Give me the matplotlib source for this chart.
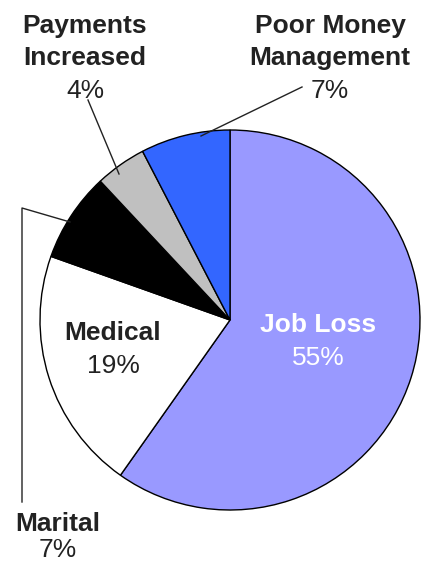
import numpy as np
import matplotlib.pyplot as plt

plt.rcParams['font.family'] = ['Liberation Sans', 'DejaVu Sans']

# data
causes = ["Job Loss", "Medical", "Marital", "Payments\nIncreased", "Poor Money\nManagement"]
percent = [55, 19, 7, 4, 7]
colors = ["#9999FF", "#FFFFFF", "#000000", "#C0C0C0", "#3366FF"]

W, H = 428, 564
fig = plt.figure(figsize=(W / 100, H / 100), dpi=100)
ax = fig.add_axes([0, 0, 1, 1])

cx, cy, r = 230, 320, 190

# y axis flipped below, so counterclock=True looks clockwise on screen
wedges, _ = ax.pie(percent, colors=colors, startangle=-90, counterclock=True,
                   center=(cx, cy), radius=r, frame=True,
                   wedgeprops=dict(edgecolor="black", linewidth=1))
ax.set_xlim(0, W)
ax.set_ylim(H, 0)
ax.set_aspect("equal")
ax.axis("off")

fs = 19
dark = "#222222"

def label(x, ys, name, pct, col):
    lines = name.split("\n")
    for yy, t in zip(ys[:-1], lines):
        ax.text(x, yy, t, ha="center", va="baseline", fontsize=fs,
                fontweight="bold", color=col)
    ax.text(x, ys[-1], pct, ha="center", va="baseline", fontsize=fs, color=col)

# inside labels
label(318, [332, 365], causes[0], "%d%%" % percent[0], "white")
label(113, [340, 373], causes[1], "%d%%" % percent[1], dark)

# outside labels (bottom one kept just inside the edge)
label(58, [531, 557], causes[2], "%d%%" % percent[2], dark)
label(85, [33, 65, 98], causes[3], "%d%%" % percent[3], dark)
label(330, [33, 65, 98], causes[4], "%d%%" % percent[4], dark)

# leader lines
ax.plot([119, 88], [174, 100], color=dark, lw=1)
ax.plot([201, 302], [136, 87], color=dark, lw=1)
ax.plot([70, 22, 22], [222, 208, 502], color=dark, lw=1)

plt.savefig("out.png", dpi=100)
